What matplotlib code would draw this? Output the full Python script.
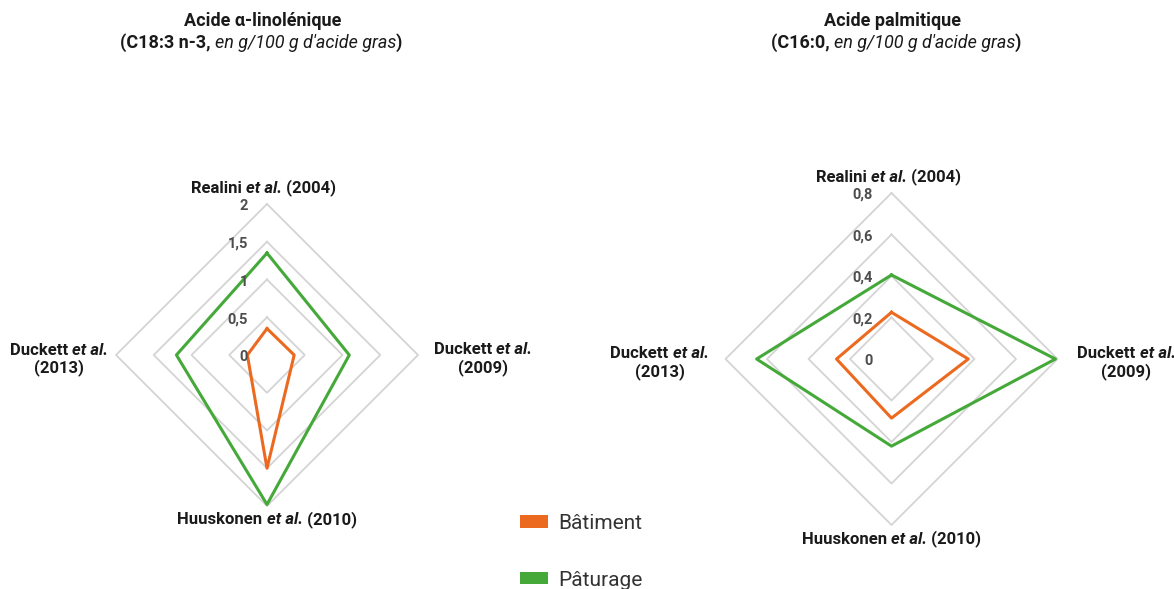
import numpy as np
import matplotlib
matplotlib.use("Agg")
import matplotlib.pyplot as plt
from matplotlib.patches import Patch
from matplotlib.transforms import IdentityTransform

plt.rcParams['font.family'] = ['Roboto', 'DejaVu Sans']

# ===============================
# data (clockwise from top)
# ===============================
studies = ["Realini et al. (2004)", "Duckett et al. (2009)",
           "Huuskonen et al. (2010)", "Duckett et al. (2013)"]

ala_batiment = [0.35, 0.36, 1.5, 0.26]
ala_paturage = [1.35, 1.09, 1.98, 1.2]
ala_ticks = [0, 0.5, 1, 1.5, 2]
ala_tick_labels = ["0", "0,5", "1", "1,5", "2"]

pal_batiment = [0.225, 0.37, 0.285, 0.265]
pal_paturage = [0.405, 0.79, 0.42, 0.65]
pal_ticks = [0, 0.2, 0.4, 0.6, 0.8]
pal_tick_labels = ["0", "0,2", "0,4", "0,6", "0,8"]

ORANGE = "#EC6A1F"
GREEN = "#45A93A"
GRID = "#d4d4d4"
TXT = "#1a1a1a"

W, H = 1174, 589
fig = plt.figure(figsize=(W / 100, H / 100), dpi=100)
rend = fig.canvas.get_renderer()


def rich_line(x, y, parts, size=12, ha="center"):
    # x, y in display pixels (origin bottom-left)
    arts = []
    for s, style in parts:
        arts.append(fig.text(0, 0, s, fontsize=size, color=TXT,
                             fontweight="bold" if "b" in style else "normal",
                             fontstyle="italic" if "i" in style else "normal",
                             va="center", ha="left", transform=IdentityTransform()))
    widths = [a.get_window_extent(rend).width for a in arts]
    total = sum(widths)
    if ha == "center":
        x0 = x - total / 2
    elif ha == "right":
        x0 = x - total
    else:
        x0 = x
    for a, w in zip(arts, widths):
        a.set_position((x0, y))
        x0 += w


def study_parts(name):
    head, rest = name.split(" et al. ")
    return [(head + " ", "b"), ("et al.", "bi"), (" " + rest, "b")]


def radar(cx, cy, R, bat, pat, ticks, tick_labels, side_off):
    ax = fig.add_axes([(cx - R) / W, (H - cy - R) / H, 2 * R / W, 2 * R / H],
                      projection="polar")
    ax.set_theta_zero_location("N")
    ax.set_theta_direction(-1)
    ax.set_ylim(0, ticks[-1])
    ax.set_axis_off()

    theta = np.linspace(0, 2 * np.pi, len(studies), endpoint=False)
    th = np.append(theta, theta[0])

    for t in ticks[1:]:
        ax.plot(th, [t] * len(th), color=GRID, lw=1.3, zorder=1, clip_on=False)
    for t, lab in zip(ticks, tick_labels):
        ax.annotate(lab, xy=(0, t), xytext=(-19, -2), textcoords="offset pixels",
                    ha="right", va="center", fontsize=10.5, fontweight="bold",
                    color="#4d4d4d", zorder=5)

    ax.plot(th, pat + pat[:1], color=GREEN, lw=2.2, zorder=3, clip_on=False)
    ax.plot(th, bat + bat[:1], color=ORANGE, lw=2.2, zorder=4, clip_on=False)

    rmax = ticks[-1]
    # top / bottom labels
    x, y = ax.transData.transform((theta[0], rmax))
    rich_line(x - 3, y + 16, study_parts(studies[0]))
    x, y = ax.transData.transform((theta[2], rmax))
    rich_line(x, y - 14, study_parts(studies[2]))
    # side labels (two lines)
    for i, off in ((1, side_off[0]), (3, side_off[1])):
        x, y = ax.transData.transform((theta[i], rmax))
        p = study_parts(studies[i])
        rich_line(x + off, y + 5, [(p[0][0], "b"), p[1]])
        rich_line(x + off, y - 13, [(p[2][0].strip(), "b")])
    return ax


radar(267, 355, 151, ala_batiment, ala_paturage, ala_ticks, ala_tick_labels, (65, -57))
radar(891.5, 359, 166, pal_batiment, pal_paturage, pal_ticks, pal_tick_labels, (69, -66))

# titles
rich_line(263, H - 21, [("Acide α-linolénique", "b")], size=13)
rich_line(261, H - 43, [("(C18:3 n-3, ", "b"), ("en g/100 g d'acide gras", "i"), (")", "b")], size=13)
rich_line(892, H - 21, [("Acide palmitique", "b")], size=13)
rich_line(896, H - 43, [("(C16:0, ", "b"), ("en g/100 g d'acide gras", "i"), (")", "b")], size=13)

# legend
handles = [Patch(facecolor=ORANGE, label="Bâtiment"),
           Patch(facecolor=GREEN, label="Pâturage")]
leg = fig.legend(handles=handles, loc="upper left",
                 bbox_to_anchor=(520 / W, 1 - 514 / H), frameon=False,
                 fontsize=15, handlelength=1.35, handleheight=0.55,
                 handletextpad=0.5, labelspacing=1.8, borderpad=0, borderaxespad=0)
for t in leg.get_texts():
    t.set_color("#333333")

fig.savefig("out.png", dpi=100)
